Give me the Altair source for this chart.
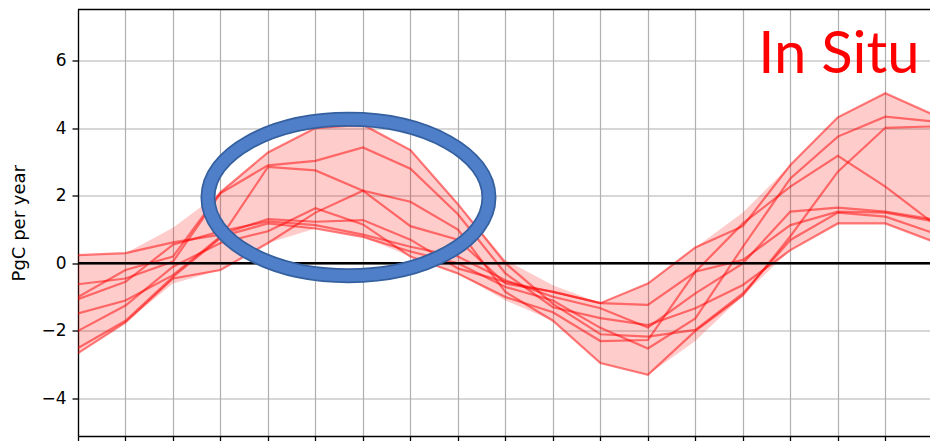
import altair as alt
import pandas as pd

# Month index along the seasonal cycle (one vertex per grid column)
months = list(range(19))

# Individual in-situ flux estimates, PgC per year
series_a = [0.24, 0.30, 0.62, 0.85, 1.31, 1.23, 1.28, 0.70, -0.15, -0.55, -0.85, -1.18, -1.23, -0.25, 0.10, 1.13, 1.53, 1.50, 1.25]
series_b = [-0.62, -0.45, 0.05, 2.07, 2.90, 3.03, 3.43, 2.80, 1.45, -0.30, -1.30, -1.62, -1.83, -1.33, -0.64, 0.39, 1.18, 1.18, 0.65]
series_c = [-1.06, -0.55, 0.55, 0.95, 1.24, 1.13, 0.85, 0.49, 0.20, -0.50, -0.99, -1.33, -1.90, -0.89, 0.00, 1.53, 1.65, 1.53, 1.30]
series_d = [-1.00, -0.20, 0.20, 2.10, 3.28, 4.00, 4.10, 3.35, 1.75, 0.00, -1.20, -2.10, -2.17, -1.97, -0.89, 0.69, 1.50, 1.38, 0.90]
series_e = [-1.48, -1.10, -0.35, 0.79, 1.18, 1.03, 0.78, 0.35, 0.00, -0.70, -1.10, -1.91, -2.52, -1.63, 0.49, 2.51, 3.75, 4.34, 4.20]
series_f = [-2.00, -1.25, -0.10, 0.60, 0.95, 1.63, 1.15, 0.20, -0.30, -1.00, -1.45, -2.30, -2.27, -0.25, 1.18, 2.27, 3.18, 2.27, 1.20]
series_g = [-2.51, -1.70, -0.40, 0.75, 2.85, 2.75, 2.15, 1.10, 0.70, -0.60, -0.84, -1.18, -0.60, 0.47, 1.10, 2.91, 4.32, 5.03, 4.40]
series_h = [-2.66, -1.75, -0.45, -0.20, 0.60, 1.50, 2.15, 1.82, 1.00, -0.85, -1.70, -2.95, -3.30, -2.00, -0.95, 0.80, 2.71, 4.01, 4.05]

# Spread of the estimates (shaded envelope)
band_low = [-2.66, -1.75, -0.60, -0.20, 0.60, 1.03, 0.78, 0.20, -0.30, -1.10, -1.70, -2.95, -3.30, -2.30, -0.95, 0.39, 1.18, 1.18, 0.65]
band_high = [0.24, 0.30, 1.05, 2.10, 3.28, 4.00, 4.10, 3.35, 1.75, 0.10, -0.65, -1.18, -0.60, 0.47, 1.50, 2.91, 4.32, 5.03, 4.40]

y_ticks = [-4, -2, 0, 2, 4, 6]
x_ticks = list(range(18))
x_min, x_max = 0, 17.94
y_min, y_max = -5.11, 7.51

label_text = "In Situ"
label_pos = (17.72, 5.62)
ring_center = (5.695, 1.947)
ring_radius_px = 140.5
ring_ratio = 0.5566

series = {
    "a": series_a, "b": series_b, "c": series_c, "d": series_d,
    "e": series_e, "f": series_f, "g": series_g, "h": series_h,
}
lines_df = pd.DataFrame(
    [{"month": m, "flux": v, "run": name}
     for name, vals in series.items() for m, v in zip(months, vals)]
)
band_df = pd.DataFrame({"month": months, "low": band_low, "high": band_high})

x_scale = alt.Scale(domain=[x_min, x_max], nice=False, zero=False)
y_scale = alt.Scale(domain=[y_min, y_max], nice=False, zero=False)

x_axis = alt.Axis(values=x_ticks, labels=False, title=None, grid=True,
                  tickSize=6, tickColor="black", tickWidth=1.3,
                  domainColor="black", domainWidth=1.3,
                  gridColor="#b0b0b0", gridWidth=1.2)
y_axis = alt.Axis(values=y_ticks, format="d", title="PgC per year", grid=True,
                  tickSize=6, tickColor="black", tickWidth=1.3,
                  domainColor="black", domainWidth=1.3,
                  gridColor="#b0b0b0", gridWidth=1.2,
                  labelFont="DejaVu Sans", labelFontSize=17, labelColor="black",
                  labelPadding=6,
                  titleFont="DejaVu Sans", titleFontSize=18, titleFontWeight="normal",
                  titleColor="black", titlePadding=12)

band = alt.Chart(band_df).mark_area(color="#ff0000", opacity=0.2, clip=True).encode(
    x=alt.X("month:Q", scale=x_scale, axis=x_axis),
    y=alt.Y("low:Q", scale=y_scale, axis=y_axis),
    y2="high:Q",
)

lines = alt.Chart(lines_df).mark_line(color="#ff0000", opacity=0.5, strokeWidth=2.2, clip=True).encode(
    x="month:Q",
    y="flux:Q",
    detail="run:N",
)

zero_line = alt.Chart().mark_rule(color="black", strokeWidth=2.5).encode(y=alt.datum(0))
top_frame = alt.Chart().mark_rule(color="black", strokeWidth=1.3).encode(y=alt.datum(y_max))

# Ellipse outline drawn as a custom symbol (four cubic arcs), two strokes for the rim
k = 0.5523
r = ring_ratio
ellipse_path = (
    f"M 1 0 C 1 {k*r:.4f} {k:.4f} {r:.4f} 0 {r:.4f} "
    f"C {-k:.4f} {r:.4f} -1 {k*r:.4f} -1 0 "
    f"C -1 {-k*r:.4f} {-k:.4f} {-r:.4f} 0 {-r:.4f} "
    f"C {k:.4f} {-r:.4f} 1 {-k*r:.4f} 1 0 Z"
)
ring_size = (2 * ring_radius_px) ** 2
ring_outer = alt.Chart().mark_point(
    shape=ellipse_path, size=ring_size, filled=False, opacity=1,
    stroke="#35609f", strokeWidth=15,
).encode(x=alt.datum(ring_center[0]), y=alt.datum(ring_center[1]))
ring_inner = alt.Chart().mark_point(
    shape=ellipse_path, size=ring_size, filled=False, opacity=1,
    stroke="#4f7fc8", strokeWidth=11.5,
).encode(x=alt.datum(ring_center[0]), y=alt.datum(ring_center[1]))

label = alt.Chart().mark_text(
    text=label_text, font="Lato", fontSize=58, color="#ff0000",
    align="right", baseline="alphabetic",
).encode(x=alt.datum(label_pos[0]), y=alt.datum(label_pos[1]))

chart = alt.layer(
    band, lines, zero_line, top_frame, ring_outer, ring_inner, label
).properties(
    width=852,
    height=426.5,
    padding={"left": 78, "top": 9.5, "right": 0, "bottom": 5},
    autosize=alt.AutoSizeParams(type="none"),
    background="white",
).configure_view(stroke=None)

chart.save("out.html", embed_options={"renderer": "svg", "actions": False})
